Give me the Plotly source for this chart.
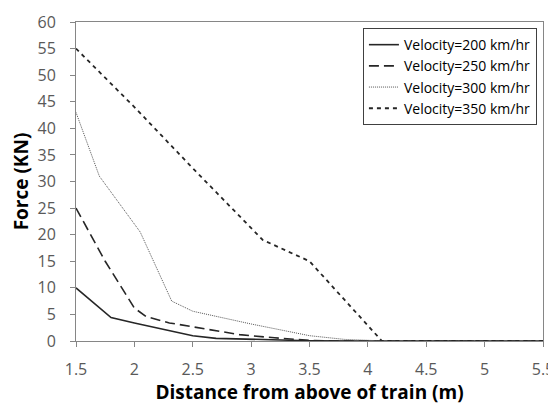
import plotly.graph_objects as go

x_200 = [1.5, 1.8, 2.0, 2.25, 2.5, 2.7, 3.0, 3.5, 4.0, 4.5, 5.0, 5.5]
y_200 = [10.0, 4.4, 3.4, 2.2, 1.0, 0.5, 0.3, 0.05, 0.0, 0.0, 0.0, 0.0]

x_250 = [1.5, 1.75, 2.0, 2.1, 2.3, 2.6, 2.9, 3.2, 3.5, 3.7, 4.5, 5.0, 5.5]
y_250 = [25.0, 15.0, 6.2, 4.6, 3.4, 2.3, 1.2, 0.6, 0.1, 0.0, 0.0, 0.0, 0.0]

x_300 = [1.5, 1.7, 2.05, 2.32, 2.5, 3.0, 3.5, 3.8, 4.15, 4.5, 5.0, 5.5]
y_300 = [43.0, 31.0, 20.5, 7.5, 5.6, 3.2, 1.0, 0.3, 0.0, 0.0, 0.0, 0.0]

x_350 = [1.5, 2.0, 2.5, 3.0, 3.1, 3.5, 4.12, 4.5, 5.0, 5.5]
y_350 = [55.0, 44.0, 32.5, 21.2, 19.0, 15.0, 0.0, 0.0, 0.0, 0.0]

series_names = ["Velocity=200 km/hr", "Velocity=250 km/hr",
                "Velocity=300 km/hr", "Velocity=350 km/hr"]

x_ticks = [1.5, 2, 2.5, 3, 3.5, 4, 4.5, 5, 5.5]
x_ticklabels = ["1.5", "2", "2.5", "3", "3.5", "4", "4.5", "5", "5.5"]
y_ticks = [0, 5, 10, 15, 20, 25, 30, 35, 40, 45, 50, 55, 60]

fig = go.Figure()
fig.add_trace(go.Scatter(x=x_200, y=y_200, mode="lines", name=series_names[0],
                         line=dict(color="#262626", width=1.6, dash="solid")))
fig.add_trace(go.Scatter(x=x_250, y=y_250, mode="lines", name=series_names[1],
                         line=dict(color="#262626", width=1.6, dash="10px,5px")))
fig.add_trace(go.Scatter(x=x_300, y=y_300, mode="lines", name=series_names[2],
                         line=dict(color="#555555", width=1, dash="1px,1px")))
fig.add_trace(go.Scatter(x=x_350, y=y_350, mode="lines", name=series_names[3],
                         line=dict(color="#262626", width=1.8, dash="4px,4px")))

FONT = "Open Sans, Carlito, Calibri, sans-serif"
tick_font = dict(family=FONT, size=16, color="#595959")
title_font = dict(family=FONT, size=19, color="#000000")

# page body has an 8px default margin, so the figure is offset by 8px
fig.update_layout(
    width=556, height=397,
    margin=dict(l=68, r=21, t=14, b=64),
    paper_bgcolor="white", plot_bgcolor="white",
    showlegend=True,
    legend=dict(x=0.987, y=0.981, xanchor="right", yanchor="top",
                bgcolor="white", bordercolor="#404040", borderwidth=1,
                font=dict(family=FONT, size=14, color="#000000"),
                itemwidth=30, tracegroupgap=0),
    xaxis=dict(range=[1.5, 5.5], tickvals=x_ticks, ticktext=x_ticklabels,
               automargin=False,
               showgrid=False, zeroline=False,
               showline=True, linecolor="#868686", linewidth=1, mirror=True,
               ticks="outside", ticklen=5, tickcolor="#868686",
               tickfont=tick_font, ticklabelstandoff=9,
               title=dict(text="<b>Distance from above of train (m)</b>", font=title_font, standoff=4)),
    yaxis=dict(range=[0, 60], tickvals=y_ticks,
               automargin=False,
               showgrid=False, zeroline=False,
               showline=True, linecolor="#868686", linewidth=1, mirror=True,
               ticks="outside", ticklen=5, tickcolor="#868686",
               tickfont=tick_font, ticklabelstandoff=11,
               title=dict(text="<b>Force (KN)</b>", font=title_font, standoff=4)),
)

fig.write_html("out.html")
